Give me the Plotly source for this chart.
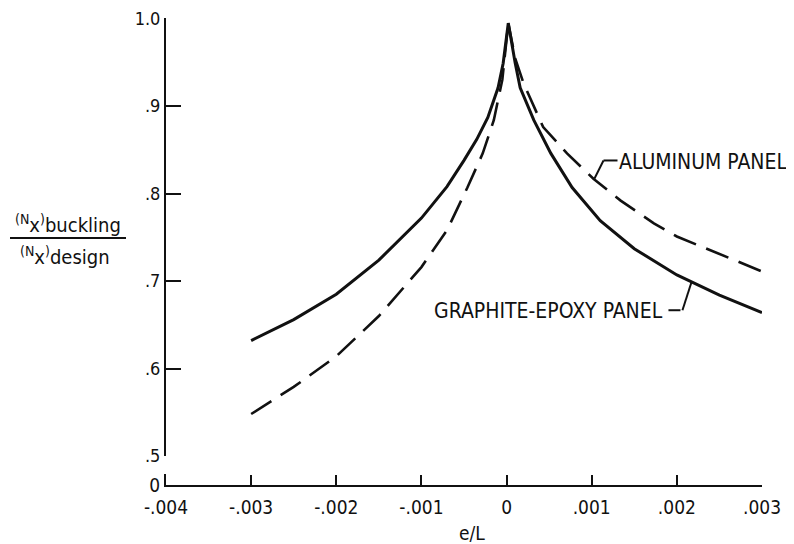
import plotly.graph_objects as go

# ---- data ----
graphite_x = [-0.003, -0.0025, -0.002, -0.0015, -0.001, -0.0007, -0.0005, -0.00035, -0.00022, -0.0001, -0.00004, 0.00002,
              0.0001, 0.00016, 0.00032, 0.00052, 0.00077, 0.0011, 0.0015, 0.002, 0.0025, 0.003]
graphite_y = [0.632, 0.656, 0.685, 0.724, 0.772, 0.808, 0.838, 0.862, 0.887, 0.921, 0.949, 0.995,
              0.950, 0.921, 0.884, 0.846, 0.807, 0.769, 0.737, 0.707, 0.684, 0.664]

aluminum_x = [-0.003, -0.0025, -0.002, -0.0015, -0.001, -0.0007, -0.00046, -0.00028, -0.00015, -0.00005, 0.00002,
              0.0001, 0.0002, 0.00043, 0.00071, 0.00102, 0.00134, 0.00173, 0.002, 0.0025, 0.003]
aluminum_y = [0.548, 0.579, 0.614, 0.660, 0.716, 0.758, 0.807, 0.846, 0.884, 0.930, 0.995,
              0.955, 0.926, 0.876, 0.846, 0.817, 0.792, 0.766, 0.751, 0.731, 0.711]

x_tickvals = [-0.004, -0.003, -0.002, -0.001, 0, 0.001, 0.002, 0.003]
x_ticktext = ["-.004", "-.003", "-.002", "-.001", "0", ".001", ".002", ".003"]
y_tickvals = [0.5, 0.6, 0.7, 0.8, 0.9, 1.0]
y_ticktext = [".5", ".6", ".7", ".8", ".9", "1.0"]

FONT = "DejaVu Sans Condensed, Liberation Sans Narrow, DejaVu Sans, sans-serif"
INK = "#111111"

OFF = 8  # page body margin
W, H = 794 - OFF, 544 - OFF
L, R, T, B = 166 - OFF, 32, 18 - OFF, 59
PW, PH = W - L - R, H - T - B


def px(xp):
    return (xp - OFF - L) / PW


def py(yp):
    return (H - B - (yp - OFF)) / PH


fig = go.Figure()
fig.add_trace(go.Scatter(x=graphite_x, y=graphite_y, mode="lines",
                         line=dict(color=INK, width=3), name="GRAPHITE-EPOXY PANEL"))
fig.add_trace(go.Scatter(x=aluminum_x, y=aluminum_y, mode="lines",
                         line=dict(color=INK, width=2.6, dash="24px,11px"), name="ALUMINUM PANEL"))
# empty trace to activate lower stub axis
fig.add_trace(go.Scatter(x=[None], y=[None], xaxis="x", yaxis="y2", showlegend=False))

y_bottom_dom = py(456)
fig.update_layout(
    width=W, height=H,
    margin=dict(l=L, r=R, t=T, b=B, autoexpand=False),
    paper_bgcolor="white", plot_bgcolor="white",
    showlegend=False,
    font=dict(family=FONT, color=INK),
    xaxis=dict(range=[-0.004, 0.003], tickvals=x_tickvals, ticktext=x_ticktext,
               showgrid=False, zeroline=False, showline=True, linecolor=INK, linewidth=2,
               ticks="inside", ticklen=10, tickwidth=2, tickcolor=INK,
               tickfont=dict(size=19, family=FONT, color=INK), ticklabelstandoff=4,
               anchor="y2", mirror=False, automargin=False),
    yaxis=dict(domain=[y_bottom_dom, 1], range=[0.5, 1.0008], tickvals=y_tickvals, ticktext=y_ticktext,
               showgrid=False, zeroline=False, showline=True, linecolor=INK, linewidth=2,
               ticks="inside", ticklen=15, tickwidth=2, tickcolor=INK,
               tickfont=dict(size=18, family=FONT, color=INK), anchor="x", automargin=False),
    yaxis2=dict(domain=[0, py(474)], range=[0, 1], tickvals=[0], ticktext=["0"],
                showgrid=False, zeroline=False, showline=True, linecolor=INK, linewidth=2,
                ticks="", tickfont=dict(size=19, family=FONT, color=INK), anchor="x", automargin=False),
)

# leader lines (data coordinates)
def to_data(xp, yp):
    return (xp - 506) / 85200.0, 1.0 - (yp - 18) / 876.0


leaders = [
    [(617, 160), (603, 160), (594, 178)],
    [(680, 310), (668, 310)],
    [(682, 310), (691, 282)],
]
for seg in leaders:
    for (a, b) in zip(seg[:-1], seg[1:]):
        x0, y0 = to_data(*a)
        x1, y1 = to_data(*b)
        fig.add_shape(type="line", xref="x", yref="y", x0=x0, y0=y0, x1=x1, y1=y1,
                      line=dict(color=INK, width=2))

fig.add_annotation(x=px(617), y=py(162), xref="paper", yref="paper", text="ALUMINUM PANEL",
                   showarrow=False, xanchor="left", yanchor="middle",
                   font=dict(size=21, family=FONT, color=INK))
fig.add_annotation(x=px(665), y=py(311), xref="paper", yref="paper", text="GRAPHITE-EPOXY PANEL",
                   showarrow=False, xanchor="right", yanchor="middle",
                   font=dict(size=21, family=FONT, color=INK))

# x axis title
fig.add_annotation(x=px(472), y=py(533), xref="paper", yref="paper", text="e/L",
                   showarrow=False, xanchor="center", yanchor="middle",
                   font=dict(size=19, family=FONT, color=INK))

# y axis title as a fraction
fig.add_annotation(x=px(68), y=py(224), xref="paper", yref="paper",
                   text="<sup>(N</sup>x<sup>)</sup>buckling",
                   showarrow=False, xanchor="center", yanchor="middle",
                   font=dict(size=20, family=FONT, color=INK))
fig.add_annotation(x=px(65), y=py(256), xref="paper", yref="paper",
                   text="<sup>(N</sup>x<sup>)</sup>design",
                   showarrow=False, xanchor="center", yanchor="middle",
                   font=dict(size=20, family=FONT, color=INK))
fig.add_shape(type="line", xref="paper", yref="paper", x0=px(10), x1=px(126), y0=py(238), y1=py(238),
              line=dict(color=INK, width=2))

fig.write_html("out.html")
